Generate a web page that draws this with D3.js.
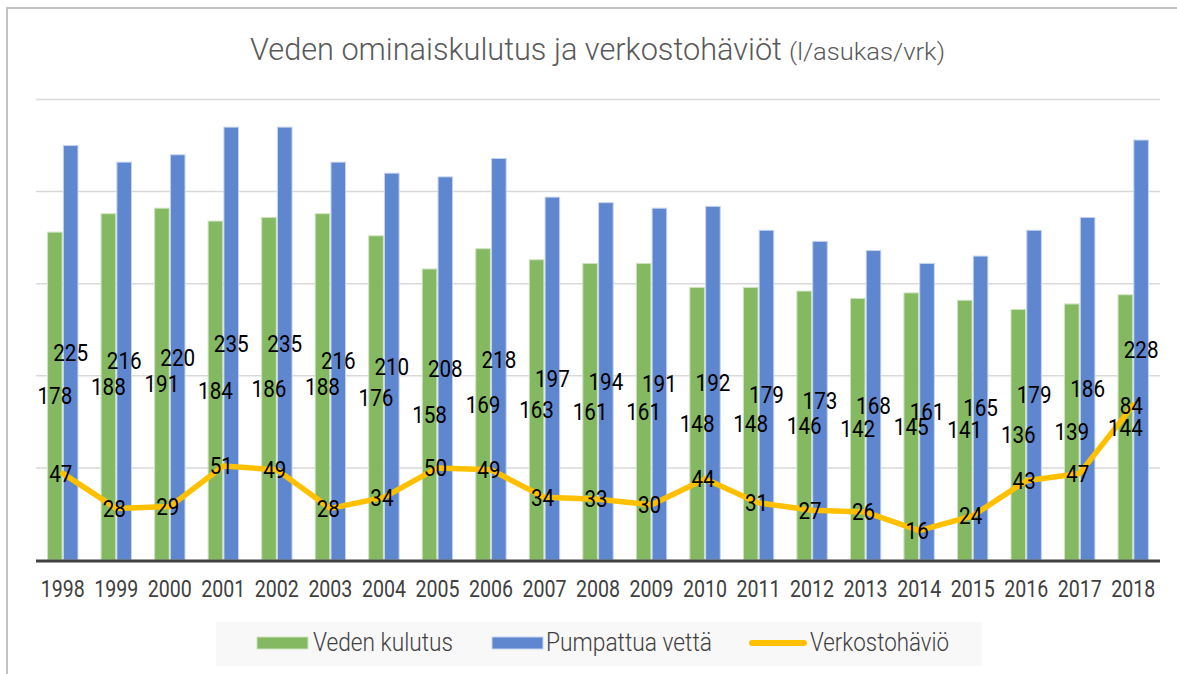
<!DOCTYPE html>
<html>
<head>
<meta charset="utf-8">
<script src="https://cdn.jsdelivr.net/npm/d3@7"></script>
<style>
  body { margin: 0; background: #fff; }
  svg { display: block; }
  text { font-family: Roboto, "Noto Sans", sans-serif; }
  .thin { font-weight: 300; }
  .lbl { font-size: 23px; fill: #000; }
  .tick-lbl { font-size: 23px; fill: #404040; }
</style>
</head>
<body>
<svg id="chart" width="1177" height="674"></svg>
<script>
var YEARS = ['1998','1999','2000','2001','2002','2003','2004','2005','2006','2007',
  '2008','2009','2010','2011','2012','2013','2014','2015','2016','2017','2018'];
var KULUTUS = [178,188,191,184,186,188,176,158,169,163,161,161,148,148,146,142,145,141,136,139,144];
var PUMPATTU = [225,216,220,235,235,216,210,208,218,197,194,191,192,179,173,168,161,165,179,186,228];
var HAVIO = [47,28,29,51,49,28,34,50,49,34,33,30,44,31,27,26,16,24,43,47,84];
var GRID_TICKS = [50, 100, 150, 200, 250];

var SERIES = ['Veden kulutus', 'Pumpattua vettä', 'Verkostohäviö'];
var GREEN = '#84b962';
var BLUE = '#5f87cf';
var YELLOW = '#ffc000';

// the reference uses a narrow face, so squeeze text to the measured width
function squeeze(sel, w) {
  sel.attr('textLength', w).attr('lengthAdjust', 'spacingAndGlyphs');
}

var svg = d3.select('#chart');

// ----- frame --------------------------------------------------------------
svg.append('path')
  .attr('d', 'M7,674 L7,8 L1177,8')
  .attr('fill', 'none')
  .attr('stroke', '#c3c3c3')
  .attr('stroke-width', 2);

// ----- title --------------------------------------------------------------
svg.append('text')
  .attr('class', 'thin')
  .attr('x', 250).attr('y', 60)
  .attr('font-size', 31)
  .attr('fill', '#595959')
  .text('Veden ominaiskulutus ja verkostohäviöt')
  .call(squeeze, 532);
svg.append('text')
  .attr('class', 'thin')
  .attr('x', 789).attr('y', 60)
  .attr('font-size', 23)
  .attr('fill', '#595959')
  .text('(l/asukas/vrk)')
  .call(squeeze, 156);

// ----- scales -------------------------------------------------------------
var plotLeft = 36, plotRight = 1160, plotTop = 99.5, plotBottom = 560;
var x = d3.scaleBand().domain(YEARS).range([plotLeft, plotRight]);
var y = d3.scaleLinear().domain([0, 250]).range([plotBottom, plotTop]);
var barW = 14.6;

var g = svg.append('g');

g.selectAll('.grid')
    .data(GRID_TICKS)
  .enter().append('line')
    .attr('class', 'grid')
    .attr('x1', plotLeft).attr('x2', plotRight)
    .attr('y1', (d) => y(d)).attr('y2', (d) => y(d))
    .attr('stroke', '#d9d9d9')
    .attr('stroke-width', 1.5);

var xc = (d) => x(d) + x.bandwidth() / 2;

g.selectAll('.bar-green')
    .data(YEARS)
  .enter().append('rect')
    .attr('class', 'bar-green')
    .attr('x', (d) => xc(d) - barW - 0.6)
    .attr('y', (d, i) => y(KULUTUS[i]))
    .attr('width', barW)
    .attr('height', (d, i) => plotBottom - y(KULUTUS[i]))
    .attr('fill', GREEN)
    .attr('stroke', '#cfe3c0')
    .attr('stroke-width', 1);

g.selectAll('.bar-blue')
    .data(YEARS)
  .enter().append('rect')
    .attr('class', 'bar-blue')
    .attr('x', (d) => xc(d) + 0.6)
    .attr('y', (d, i) => y(PUMPATTU[i]))
    .attr('width', barW)
    .attr('height', (d, i) => plotBottom - y(PUMPATTU[i]))
    .attr('fill', BLUE)
    .attr('stroke', '#c6d5ef')
    .attr('stroke-width', 1);

// baseline
g.append('line')
  .attr('x1', plotLeft).attr('x2', plotRight)
  .attr('y1', plotBottom + 1).attr('y2', plotBottom + 1)
  .attr('stroke', '#404040')
  .attr('stroke-width', 3);

var line = d3.line()
  .x((d, i) => xc(YEARS[i]))
  .y((d) => y(d));

g.append('path')
  .datum(HAVIO)
  .attr('d', line)
  .attr('fill', 'none')
  .attr('stroke', YELLOW)
  .attr('stroke-width', 5.5)
  .attr('stroke-linejoin', 'round')
  .attr('stroke-linecap', 'round');

// ----- data labels --------------------------------------------------------
function addLabels(cls, values, dx) {
  g.selectAll('.' + cls)
      .data(YEARS)
    .enter().append('text')
      .attr('class', 'lbl ' + cls)
      .attr('x', (d) => xc(d) + dx)
      .attr('y', (d, i) => cls === 'lbl-line' ? y(values[i]) : (y(values[i]) + plotBottom) / 2)
      .attr('dy', '0.36em')
      .attr('text-anchor', 'middle')
      .attr('textLength', (d, i) => String(values[i]).length * 11.6)
      .attr('lengthAdjust', 'spacingAndGlyphs')
      .text((d, i) => values[i]);
}
addLabels('lbl-green', KULUTUS, -barW / 2 - 0.6);
addLabels('lbl-blue', PUMPATTU, barW / 2 + 0.6);
addLabels('lbl-line', HAVIO, -2);

// ----- x axis labels ------------------------------------------------------
g.selectAll('.tick-lbl')
    .data(YEARS)
  .enter().append('text')
    .attr('class', 'tick-lbl')
    .attr('x', (d) => xc(d))
    .attr('y', 589)
    .attr('dy', '0.36em')
    .attr('text-anchor', 'middle')
    .attr('textLength', 44)
    .attr('lengthAdjust', 'spacingAndGlyphs')
    .text((d) => d);

// ----- legend -------------------------------------------------------------
var legend = svg.append('g');
legend.append('rect')
  .attr('x', 216).attr('y', 622)
  .attr('width', 766).attr('height', 44)
  .attr('fill', '#f8f8f8');

var LEG_X = [257, 492, 749];
var LEG_TX = [313, 546, 810];
var LEG_TW = [140, 166, 139];
SERIES.forEach(function(name, i) {
  if (i < 2) {
    legend.append('rect')
      .attr('x', LEG_X[i]).attr('y', 637)
      .attr('width', 51).attr('height', 12)
      .attr('fill', i === 0 ? GREEN : BLUE)
      .attr('stroke', i === 0 ? '#cfe3c0' : '#c6d5ef');
  } else {
    legend.append('line')
      .attr('x1', LEG_X[i] + 3).attr('x2', LEG_X[i] + 55)
      .attr('y1', 643).attr('y2', 643)
      .attr('stroke', YELLOW)
      .attr('stroke-width', 6)
      .attr('stroke-linecap', 'round');
  }
  legend.append('text')
    .attr('class', 'thin')
    .attr('x', LEG_TX[i]).attr('y', 642)
    .attr('dy', '0.36em')
    .attr('font-size', 25)
    .attr('fill', '#404040')
    .text(name)
    .call(squeeze, LEG_TW[i]);
});
</script>
</body>
</html>
